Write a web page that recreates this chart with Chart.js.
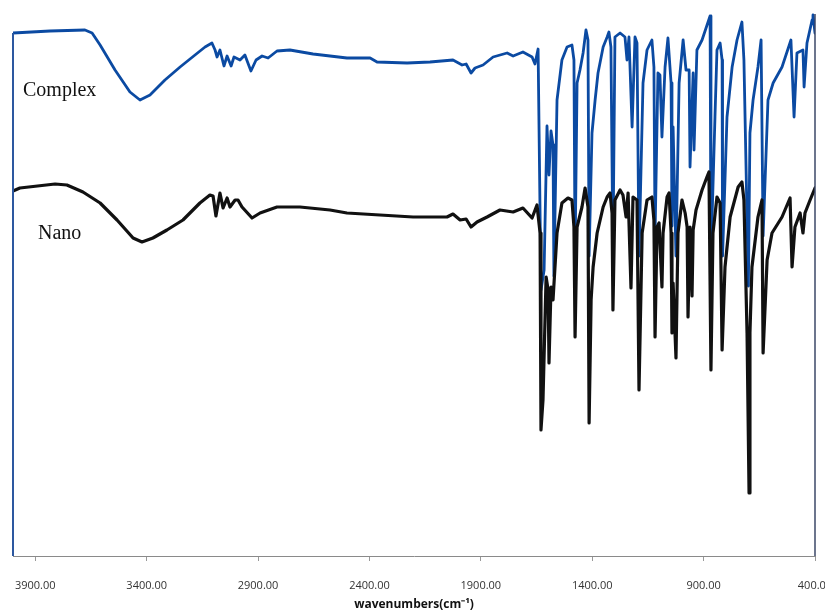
<!DOCTYPE html>
<html>
<head>
<meta charset="utf-8">
<script src="https://cdn.jsdelivr.net/npm/chart.js@4/dist/chart.umd.min.js"></script>
<style>
  html,body{margin:0;padding:0;background:#fff;overflow:hidden;}
  #wrap{width:825px;height:612px;}
</style>
</head>
<body>
<div id="wrap"><canvas id="ir"></canvas></div>
<script>
// wavenumbers (cm-1) and transmittance (arbitrary units)
const complexWn = [4000,3834,3677,3645,3609,3542,3475,3430,3385,3318,3250,3183,3138,3107,3093,3084,3071,3053,3039,3021,3008,2981,2959,2932,2909,2882,2855,2815,2757,2653,2501,2397,2366,2231,2128,2025,1984,1966,1944,1926,1890,1845,1782,1755,1711,1670,1657,1643,1630,1616,1603,1594,1585,1576,1572,1558,1536,1513,1491,1482,1477,1468,1455,1441,1428,1419,1414,1401,1387,1374,1351,1333,1325,1316,1307,1298,1275,1253,1244,1235,1221,1208,1199,1190,1172,1154,1132,1123,1118,1105,1096,1087,1073,1060,1046,1042,1037,1024,1010,992,979,965,961,947,943,930,907,871,867,849,840,826,817,815,795,772,750,728,719,699,692,678,656,642,633,611,588,548,508,494,481,454,449,436,413,409,400];
const complexT  = [523,525,526,523,511,486,464,456,461,476,489,501,509,513,506,499,506,490,500,490,499,496,501,485,496,500,498,505,506,502,498,498,494,493,494,496,491,492,483,488,491,499,503,500,504,499,492,507,266,286,430,381,425,411,280,456,496,509,511,496,300,473,486,503,526,516,300,423,456,483,509,519,524,509,300,519,523,519,496,519,429,519,513,300,473,506,516,489,320,483,481,419,489,518,473,330,429,300,473,516,486,486,389,483,406,506,516,540,300,439,506,513,496,300,439,489,516,534,496,270,423,456,489,516,320,456,473,489,516,439,503,506,469,513,536,541,523];

const nanoWn = [4000,3969,3811,3758,3686,3609,3533,3461,3421,3372,3309,3237,3161,3116,3102,3089,3071,3057,3039,3026,3003,2990,2972,2927,2891,2815,2712,2577,2501,2353,2204,2052,2025,1993,1966,1944,1917,1872,1814,1755,1711,1670,1648,1634,1630,1621,1607,1598,1594,1585,1576,1558,1536,1509,1491,1482,1477,1468,1446,1432,1419,1414,1405,1396,1378,1351,1333,1320,1311,1307,1298,1275,1262,1248,1239,1226,1217,1199,1190,1176,1154,1132,1123,1118,1109,1100,1087,1082,1064,1055,1046,1042,1037,1024,1015,997,983,974,970,961,952,947,934,907,885,876,867,858,840,826,817,804,781,745,728,719,705,696,692,683,656,638,633,615,593,548,512,503,490,467,454,445,422,400];
const nanoT  = [365,368,372,371,364,353,336,318,314,318,326,336,353,361,360,340,363,348,358,349,356,356,349,338,343,349,349,346,343,341,339,339,342,336,337,329,334,339,346,344,348,338,351,323,126,156,279,266,193,269,256,323,353,358,356,329,219,329,349,368,349,133,256,289,323,349,359,363,343,246,356,366,361,339,363,268,359,356,166,323,356,359,336,219,329,333,269,323,359,363,323,223,273,198,323,356,343,329,239,329,260,326,346,366,379,384,186,323,359,353,206,289,339,369,374,356,223,63,223,289,339,356,203,296,323,339,358,289,329,343,323,343,356,368];

const xTicks = [3900,3400,2900,2400,1900,1400,900,400];
const seriesNames = ['Complex','Nano'];

const toPts = (wn, t) => wn.map((w, i) => ({x: w, y: t[i]}));

const frame = {
  id: 'frame',
  afterDatasetsDraw(chart) {
    const {ctx, chartArea: a} = chart;
    const first = chart.getDatasetMeta(0).data[0];
    ctx.save();
    ctx.lineWidth = 2;
    ctx.strokeStyle = '#2d58a0';
    ctx.beginPath();
    ctx.moveTo(a.left, first.y);
    ctx.lineTo(a.left, a.bottom);
    ctx.stroke();
    ctx.lineWidth = 1.5;
    ctx.strokeStyle = '#3b4767';
    ctx.beginPath();
    ctx.moveTo(a.right, a.top + 8);
    ctx.lineTo(a.right, a.bottom);
    ctx.stroke();
    ctx.fillStyle = '#111';
    ctx.font = '20px "Liberation Serif", "Times New Roman", serif';
    ctx.textBaseline = 'alphabetic';
    ctx.fillText(seriesNames[0], a.left + 10, a.top + 90);
    ctx.fillText(seriesNames[1], a.left + 25, a.top + 233);
    ctx.restore();
  }
};

new Chart(document.getElementById('ir'), {
  type: 'line',
  data: {
    datasets: [
      { label: seriesNames[0], data: toPts(complexWn, complexT), borderColor: '#0b4aa2', borderWidth: 2.8, order: 2 },
      { label: seriesNames[1], data: toPts(nanoWn, nanoT), borderColor: '#111111', borderWidth: 3.2, order: 1 }
    ]
  },
  options: {
    responsive: true,
    maintainAspectRatio: false,
    animation: false,
    layout: { padding: { left: 13, right: 10, top: 6, bottom: 0 } },
    elements: { point: { radius: 0 }, line: { tension: 0, borderJoinStyle: 'round', borderCapStyle: 'round' } },
    plugins: { legend: { display: false }, tooltip: { enabled: false } },
    scales: {
      x: {
        type: 'linear', reverse: true, min: 400, max: 4000,
        afterBuildTicks: s => { s.ticks = xTicks.map(v => ({value: v})); },
        afterFit: s => { s.height = 56; s.paddingLeft = 0; s.paddingRight = 0; },
        grid: { display: true, drawOnChartArea: false, drawTicks: true, tickLength: 5, color: '#999' },
        border: { display: true, color: '#8a8a8a', width: 1 },
        ticks: { padding: 18, maxRotation: 0, autoSkip: false, color: '#333',
                 font: { family: '"Open Sans", sans-serif', size: 11 },
                 callback: v => Number(v).toFixed(2) },
        title: { display: true, text: 'wavenumbers(cm\u207B\u00B9)', color: '#111',
                 font: { family: '"Open Sans", sans-serif', size: 12, weight: 'bold' },
                 padding: { top: 0, bottom: 0 } }
      },
      y: { display: false, min: 0, max: 550 }
    }
  },
  plugins: [frame]
});
</script>
</body>
</html>
